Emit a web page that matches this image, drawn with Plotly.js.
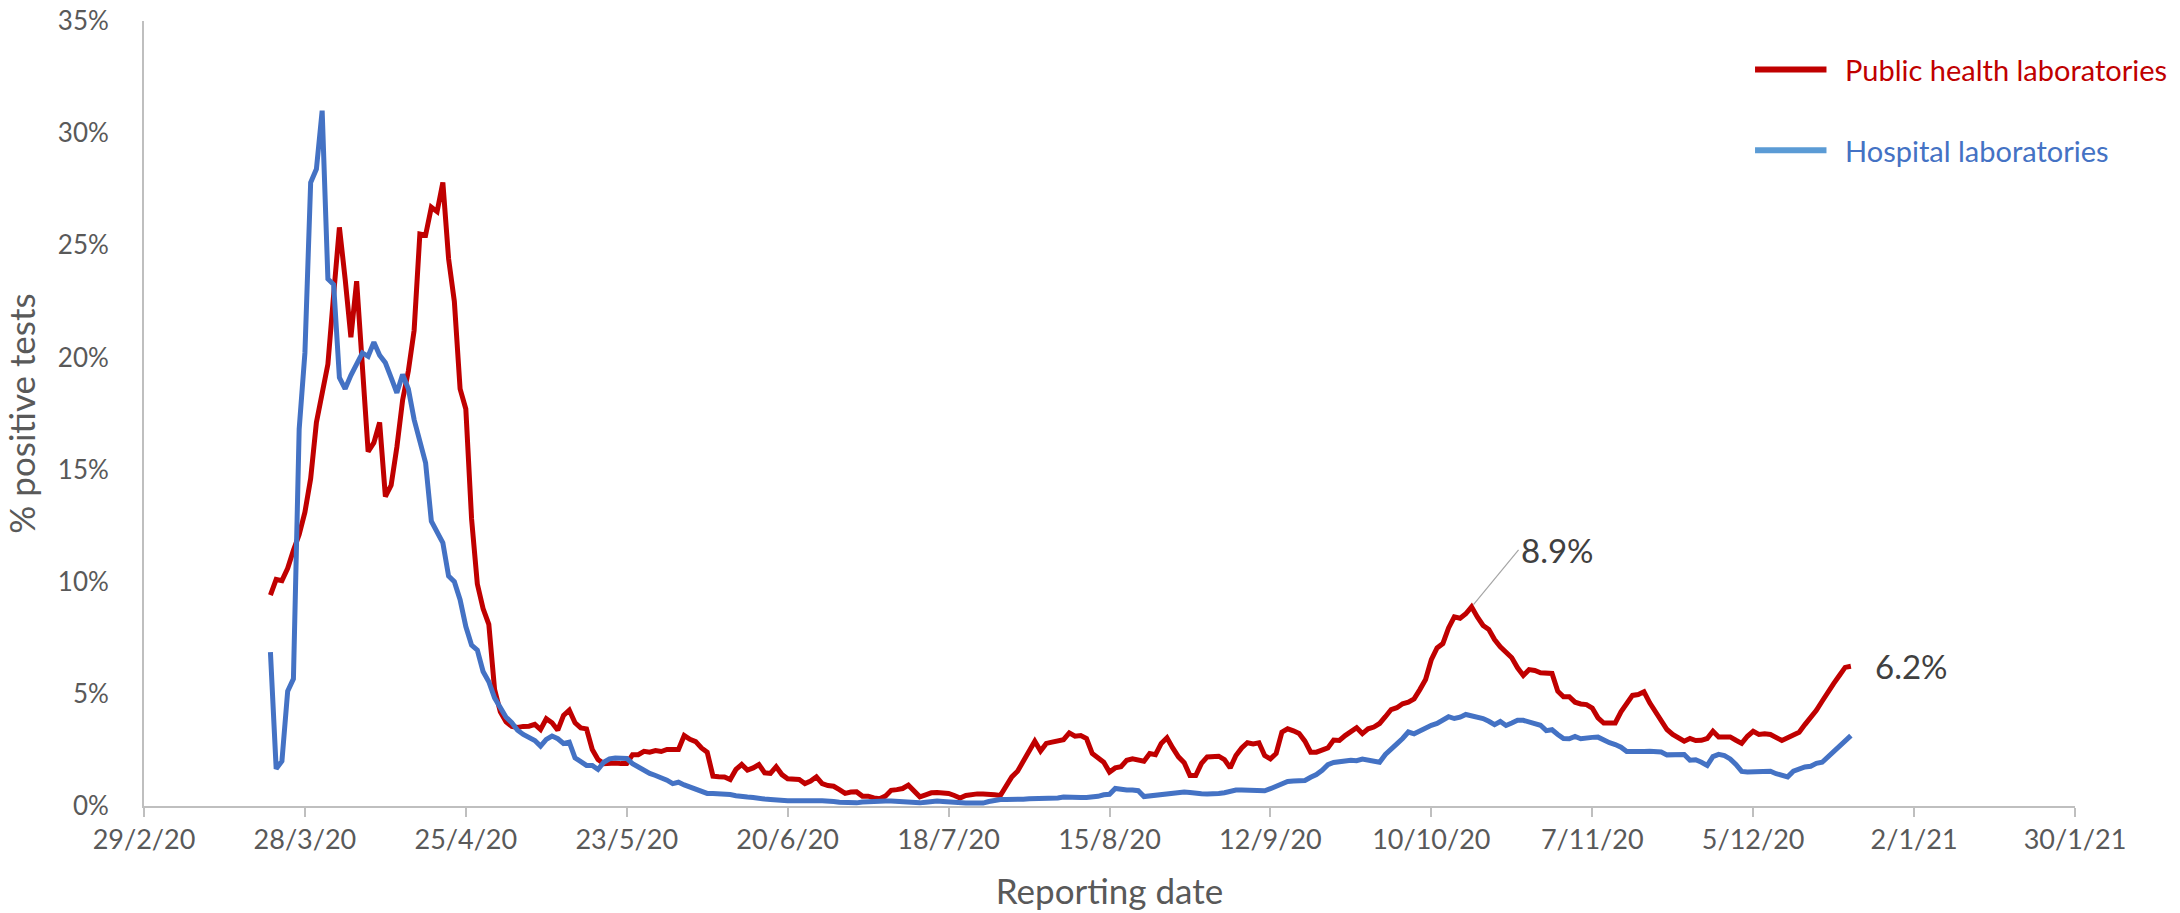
<!DOCTYPE html>
<html>
<head>
<meta charset="utf-8">
<script src="https://cdn.plot.ly/plotly-3.0.1.min.js"></script>
<style>
html,body{margin:0;padding:0;background:#fff;}
#chart{width:2180px;height:913px;}
</style>
</head>
<body>
<div id="chart"></div>
<script>
// Daily series start date (first reported value) — values are % positive tests
const startDate = '2020-03-22';

const publicHealthLabs = [
  9.4, 10.1, 10.05, 10.6, 11.4, 12.1, 13.1, 14.6, 17.1, 18.5,
  19.7, 22.8, 25.8, 23.5, 20.9, 23.4, 19.6, 15.8, 16.2, 17.1,
  13.8, 14.3, 16.0, 18.1, 19.4, 21.2, 25.5, 25.45, 26.7, 26.5,
  27.8, 24.4, 22.5, 18.6, 17.7, 12.8, 9.9, 8.8, 8.1, 5.2,
  4.2, 3.75, 3.55, 3.5, 3.55, 3.56, 3.64, 3.41, 3.89, 3.71,
  3.38, 4.04, 4.27, 3.71, 3.48, 3.44, 2.52, 2.07, 1.89, 1.92,
  1.92, 1.89, 1.89, 2.29, 2.29, 2.44, 2.4, 2.47, 2.43, 2.52,
  2.52, 2.52, 3.14, 2.97, 2.87, 2.59, 2.4, 1.33, 1.30, 1.29,
  1.18, 1.63, 1.85, 1.6, 1.7, 1.85, 1.48, 1.45, 1.75, 1.4,
  1.21, 1.18, 1.18, 1.0, 1.11, 1.3, 1.0, 0.91, 0.88, 0.73,
  0.56, 0.62, 0.63, 0.44, 0.44, 0.36, 0.32, 0.44, 0.70, 0.73,
  0.78, 0.93, 0.66, 0.41, 0.5, 0.59, 0.6, 0.59, 0.56, 0.47,
  0.36, 0.47, 0.53, 0.54, 0.54, 0.54, 0.5, 0.47, 0.88, 1.3,
  1.55, 2.0, 2.5, 2.89, 2.45, 2.79, 2.85, 2.92, 2.96, 3.26,
  3.11, 3.14, 3.01, 2.34, 2.15, 1.95, 1.51, 1.70, 1.75, 2.04,
  2.1, 2.07, 2.0, 2.34, 2.29, 2.79, 3.04, 2.59, 2.19, 1.93,
  1.36, 1.36, 1.9, 2.19, 2.22, 2.22, 2.07, 1.7, 2.25, 2.59,
  2.82, 2.77, 2.82, 2.25, 2.1, 2.34, 3.29, 3.44, 3.35, 3.23,
  2.89, 2.4, 2.4, 2.49, 2.59, 2.94, 2.92, 3.14, 3.34, 3.49,
  3.23, 3.44, 3.52, 3.68, 3.98, 4.3, 4.38, 4.56, 4.63, 4.78,
  5.19, 5.64, 6.53, 7.05, 7.24, 7.94, 8.43, 8.37, 8.57, 8.88,
  8.43, 8.05, 7.87, 7.42, 7.1, 6.83, 6.61, 6.16, 5.82, 6.08,
  6.04, 5.94, 5.93, 5.91, 5.12, 4.87, 4.87, 4.63, 4.55, 4.52,
  4.37, 3.93, 3.7, 3.7, 3.7, 4.2, 4.6, 4.93, 4.97, 5.09,
  4.6, 4.18, 3.85, 3.41, 3.19, 3.04, 2.89, 3.01, 2.92, 2.93,
  3.01, 3.33, 3.08, 3.08, 3.08, 2.93, 2.79, 3.11, 3.33, 3.19,
  3.22, 3.19, 3.04, 2.92, 3.04, 3.19, 3.29, 3.63, 3.93, 4.27,
  4.67, 5.12, 5.46, 5.82, 6.18, 6.23
];

const hospitalLabs = [
  6.86, 1.66, 2.0, 5.12, 5.67, 16.8, 20.2, 27.8, 28.4, 31.0,
  23.5, 23.25, 19.1, 18.6, 19.2, 19.7, 20.2, 20.05, 20.68, 20.1,
  19.76, 19.1, 18.42, 19.24, 18.6, 17.23, 16.26, 15.3, 12.7, 12.15,
  11.73, 10.25, 10.0, 9.2, 8.0, 7.17, 6.95, 6.0, 5.54, 4.82,
  4.33, 3.96, 3.71, 3.38, 3.19, 3.04, 2.92, 2.67, 2.97, 3.12,
  3.0, 2.79, 2.85, 2.15, 1.95, 1.81, 1.81, 1.63, 1.95, 2.1,
  2.14, 2.13, 2.12, 1.89, 1.74, 1.63, 1.45, 1.36, 1.27, 1.15,
  1.0, 1.06, 0.94, 0.85, 0.73, 0.66, 0.56, 0.56, 0.56, 0.54,
  0.51, 0.46, 0.41, 0.4, 0.38, 0.33, 0.31, 0.29, 0.26, 0.25,
  0.23, 0.23, 0.24, 0.26, 0.23, 0.23, 0.23, 0.23, 0.2, 0.17,
  0.16, 0.14, 0.14, 0.18, 0.2, 0.21, 0.21, 0.22, 0.22, 0.2,
  0.18, 0.17, 0.15, 0.14, 0.17, 0.2, 0.22, 0.2, 0.17, 0.16,
  0.14, 0.13, 0.13, 0.13, 0.13, 0.2, 0.25, 0.29, 0.29, 0.28,
  0.27, 0.3, 0.32, 0.32, 0.32, 0.34, 0.35, 0.36, 0.4, 0.41,
  0.39, 0.38, 0.38, 0.38, 0.43, 0.5, 0.52, 0.78, 0.73, 0.71,
  0.71, 0.68, 0.42, 0.45, 0.48, 0.52, 0.55, 0.6, 0.63, 0.62,
  0.6, 0.56, 0.55, 0.54, 0.53, 0.56, 0.59, 0.65, 0.71, 0.71,
  0.7, 0.67, 0.64, 0.68, 0.77, 0.88, 1.03, 1.09, 1.11, 1.13,
  1.14, 1.28, 1.4, 1.59, 1.84, 1.94, 1.95, 2.01, 2.04, 2.02,
  2.09, 2.06, 2.0, 1.95, 2.3, 2.5, 2.77, 3.01, 3.3, 3.22,
  3.35, 3.52, 3.6, 3.68, 3.8, 3.98, 3.9, 3.96, 4.08, 4.02,
  4.0, 3.9, 3.78, 3.63, 3.77, 3.59, 3.7, 3.82, 3.82, 3.75,
  3.72, 3.6, 3.36, 3.4, 3.19, 3.01, 3.0, 3.1, 3.0, 3.05,
  3.06, 3.07, 2.93, 2.82, 2.74, 2.62, 2.43, 2.42, 2.4, 2.43,
  2.44, 2.45, 2.41, 2.28, 2.28, 2.33, 2.3, 2.04, 2.06, 1.95,
  1.81, 2.2, 2.3, 2.25, 2.1, 1.85, 1.54, 1.52, 1.53, 1.58,
  1.56, 1.55, 1.44, 1.38, 1.3, 1.55, 1.67, 1.74, 1.77, 1.9,
  1.95, 2.2, 2.45, 2.7, 2.92, 3.14
];

const seriesNames = ['Public health laboratories', 'Hospital laboratories'];
const tickDates = ['2020-02-29','2020-03-28','2020-04-25','2020-05-23','2020-06-20','2020-07-18',
  '2020-08-15','2020-09-12','2020-10-10','2020-11-07','2020-12-05','2021-01-02','2021-01-30'];
const tickLabels = ['29/2/20','28/3/20','25/4/20','23/5/20','20/6/20','18/7/20',
  '15/8/20','12/9/20','10/10/20','7/11/20','5/12/20','2/1/21','30/1/21'];
const yTicks = [0, 5, 10, 15, 20, 25, 30, 35];
const yTickLabels = ['0%', '5%', '10%', '15%', '20%', '25%', '30%', '35%'];
const xTitle = 'Reporting date';
const yTitle = '% positive tests';

// build daily dates
const t0 = Date.parse(startDate + 'T00:00:00Z');
const dates = publicHealthLabs.map((_, i) => new Date(t0 + i * 86400000).toISOString().slice(0, 10));

const RED = '#c00000', BLUE = '#4472c4', BLUE_LEG = '#5b9bd5', GREY_TXT = '#595959', AXIS = '#bfbfbf';
const FONT = 'Lato, "Open Sans", sans-serif';

const traces = [
  {x: dates, y: publicHealthLabs, name: seriesNames[0], type: 'scatter', mode: 'lines',
   line: {color: RED, width: 5}, showlegend: false},
  {x: dates, y: hospitalLabs, name: seriesNames[1], type: 'scatter', mode: 'lines',
   line: {color: BLUE, width: 5}, showlegend: false}
];

// peak of second wave & last value
let peakIdx = dates.findIndex(d => d >= '2020-09-01');
dates.forEach((d, i) => { if (d >= '2020-09-01' && publicHealthLabs[i] > publicHealthLabs[peakIdx]) peakIdx = i; });
const lastIdx = publicHealthLabs.length - 1;

const annotations = [
  {x: dates[peakIdx], y: publicHealthLabs[peakIdx], xref: 'x', yref: 'y',
   text: publicHealthLabs[peakIdx].toFixed(1) + '%', showarrow: true, arrowhead: 0, arrowwidth: 1.2,
   arrowcolor: '#a6a6a6', ax: 47, ay: -57, xanchor: 'left', yanchor: 'middle', standoff: 3,
   font: {family: FONT, size: 33, color: '#404040'}},
  {x: dates[lastIdx], y: publicHealthLabs[lastIdx], xref: 'x', yref: 'y',
   text: publicHealthLabs[lastIdx].toFixed(1) + '%', showarrow: false, xanchor: 'left', yanchor: 'middle',
   xshift: 22, font: {family: FONT, size: 33, color: '#404040'}},
  // custom legend texts
  {xref: 'paper', yref: 'paper', x: 0.880, y: 0.9382, xanchor: 'left', yanchor: 'middle', showarrow: false,
   text: seriesNames[0], font: {family: FONT, size: 29, color: RED}},
  {xref: 'paper', yref: 'paper', x: 0.880, y: 0.8354, xanchor: 'left', yanchor: 'middle', showarrow: false,
   text: seriesNames[1], font: {family: FONT, size: 29, color: BLUE}}
];

const shapes = [
  {type: 'line', xref: 'paper', yref: 'paper', x0: 0.8343, x1: 0.8713, y0: 0.9382, y1: 0.9382,
   line: {color: RED, width: 6}},
  {type: 'line', xref: 'paper', yref: 'paper', x0: 0.8343, x1: 0.8713, y0: 0.8354, y1: 0.8354,
   line: {color: BLUE_LEG, width: 6}}
];

const layout = {
  width: 2180, height: 913,
  margin: {l: 144, r: 105, t: 21, b: 107},
  paper_bgcolor: '#fff', plot_bgcolor: '#fff',
  font: {family: FONT, color: GREY_TXT},
  showlegend: false,
  xaxis: {
    type: 'date', range: [tickDates[0], tickDates[tickDates.length - 1]],
    tickmode: 'array', tickvals: tickDates, ticktext: tickLabels,
    showgrid: false, zeroline: false, showline: true, linecolor: AXIS, linewidth: 2,
    ticks: 'outside', ticklen: 9, tickwidth: 2, tickcolor: AXIS,
    tickfont: {family: FONT, size: 27, color: GREY_TXT},
    title: {text: xTitle, font: {family: FONT, size: 35, color: GREY_TXT}, standoff: 25}
  },
  yaxis: {
    range: [0, 35], tickmode: 'array', tickvals: yTicks, ticktext: yTickLabels,
    showgrid: false, zeroline: false, showline: true, linecolor: AXIS, linewidth: 2,
    ticks: 'outside', ticklen: 28, tickcolor: 'rgba(0,0,0,0)',
    tickfont: {family: FONT, size: 26, color: GREY_TXT},
    title: {text: yTitle, font: {family: FONT, size: 35, color: GREY_TXT}, standoff: 14}
  },
  annotations: annotations,
  shapes: shapes
};

Plotly.newPlot('chart', traces, layout, {displayModeBar: false, responsive: false});
</script>
</body>
</html>
